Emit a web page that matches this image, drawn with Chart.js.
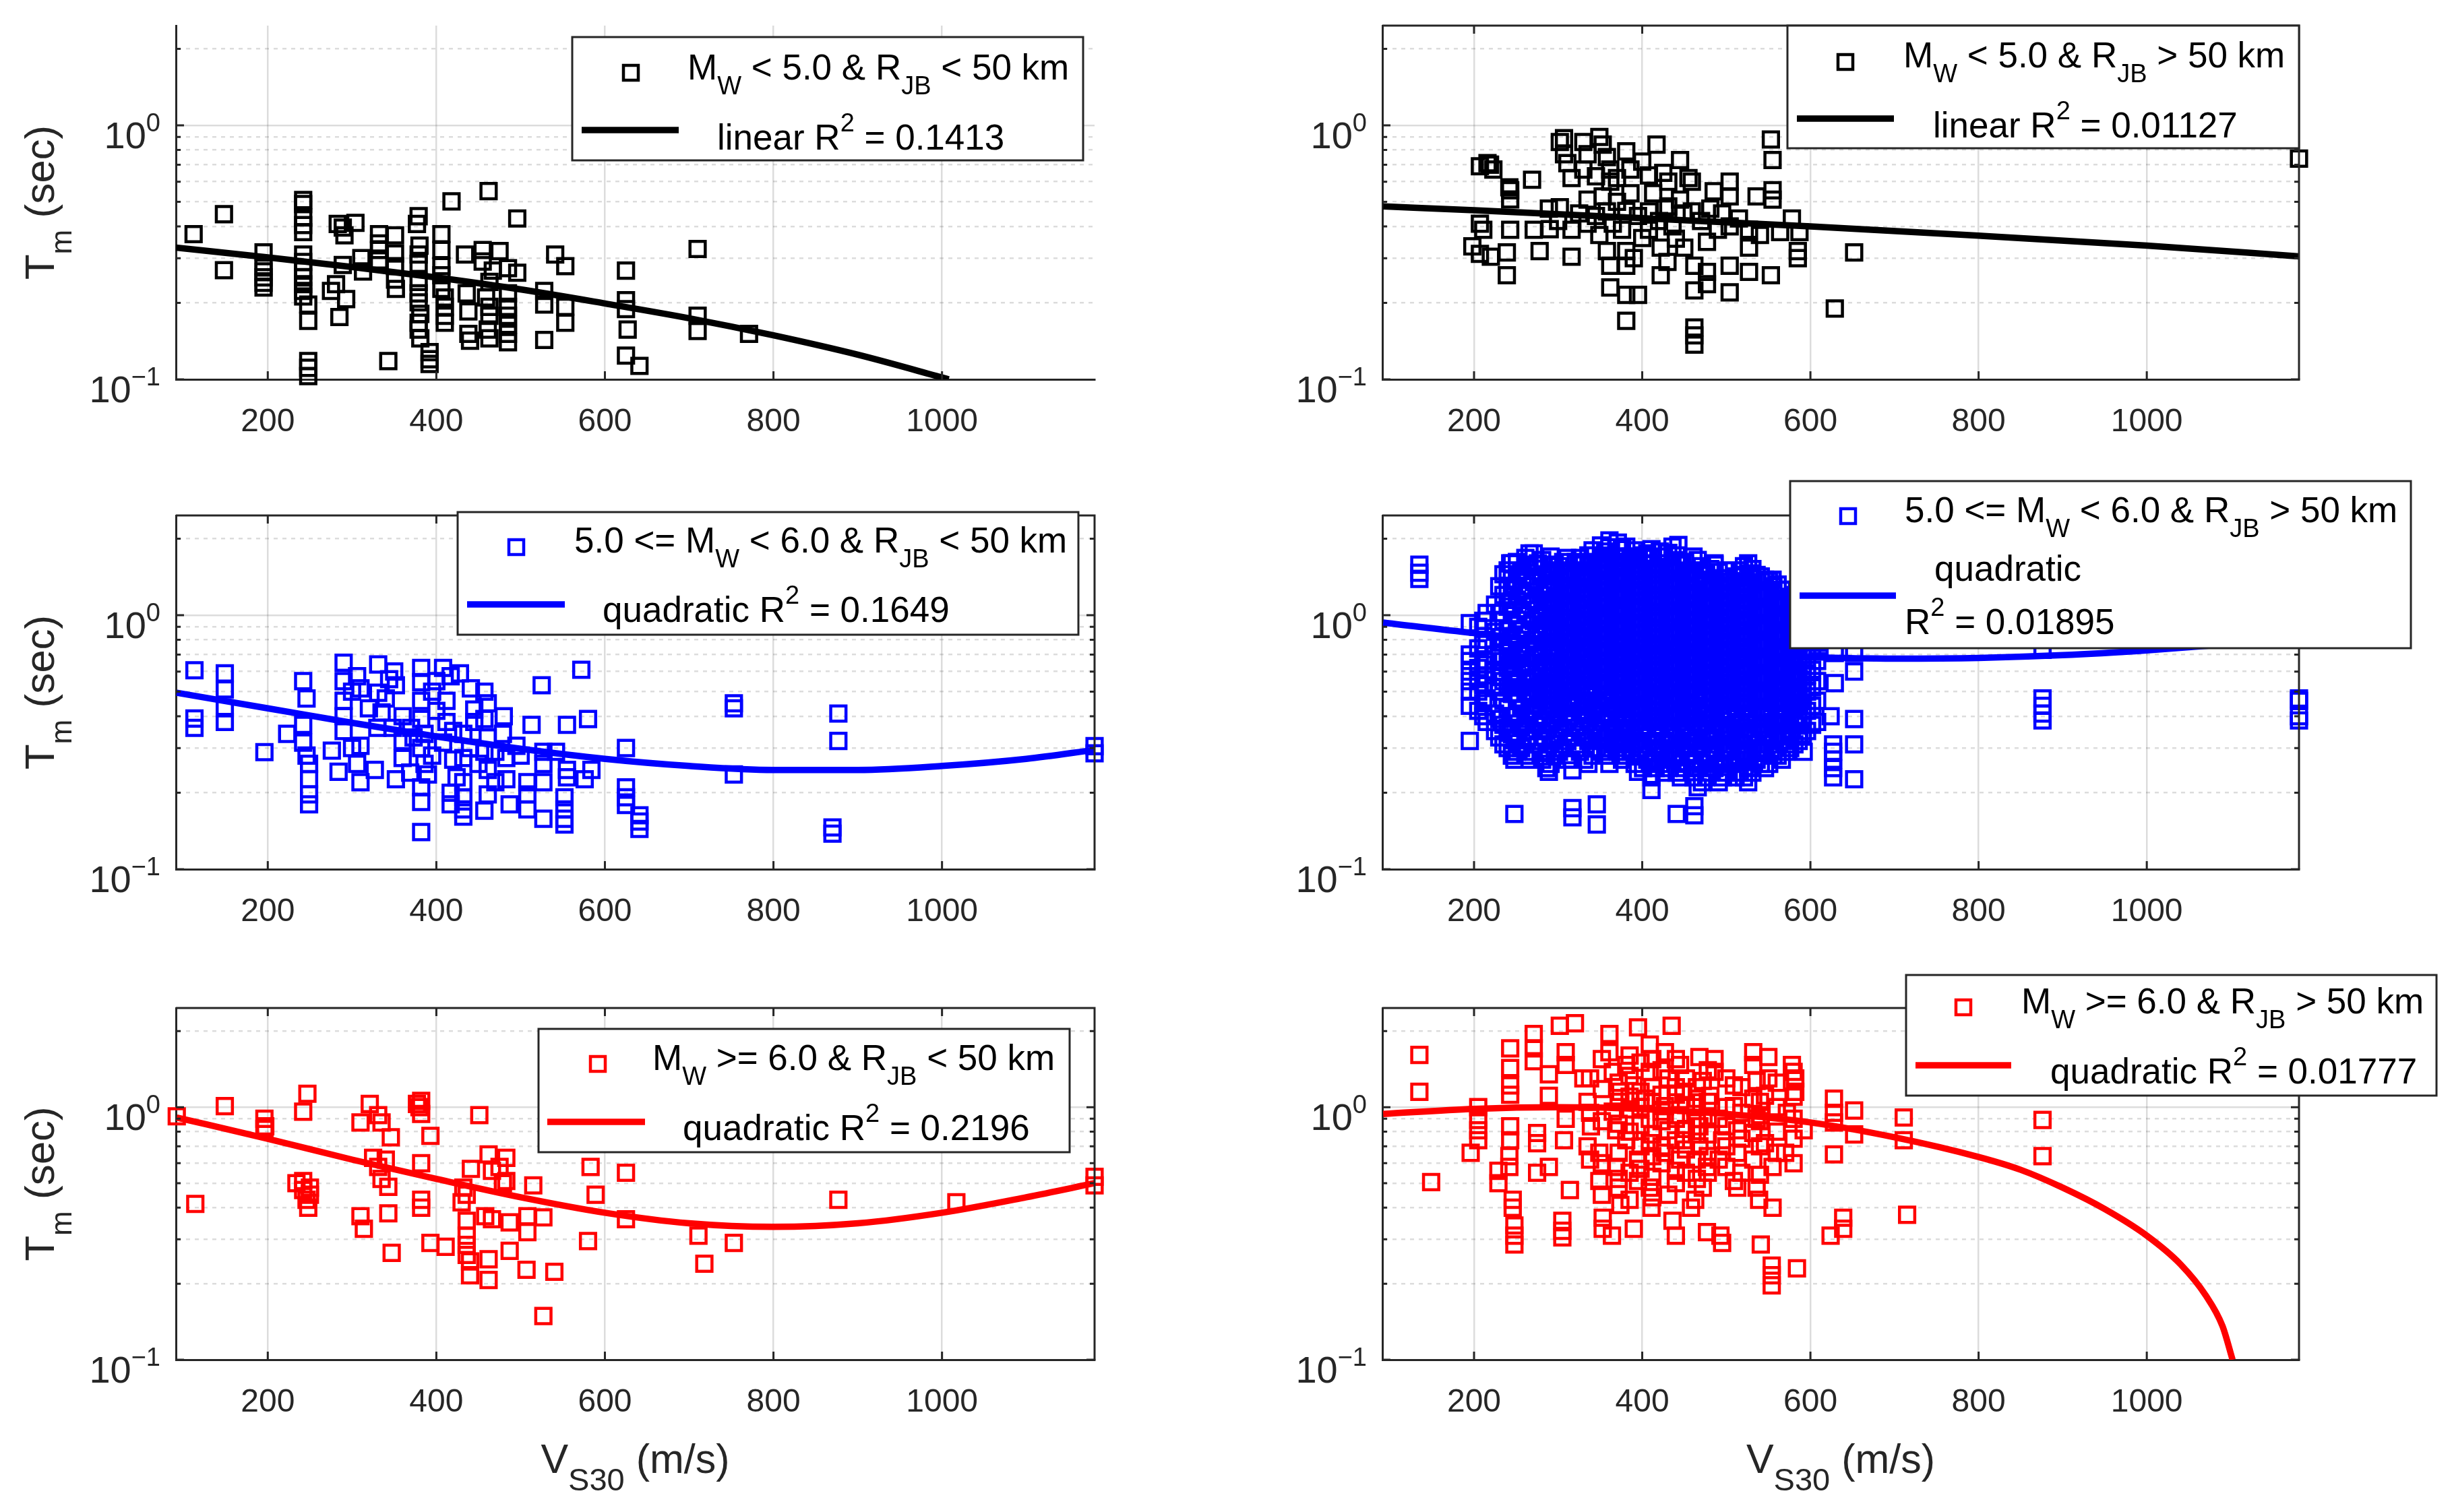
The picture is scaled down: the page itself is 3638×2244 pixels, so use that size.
<!DOCTYPE html>
<html><head><meta charset="utf-8">
<script src="https://cdn.jsdelivr.net/npm/chart.js@4.4.1/dist/chart.umd.min.js"></script>
<style>html,body{margin:0;padding:0;background:#fff;}#wrap{position:relative;width:3638px;height:2244px;background:#fff;}canvas{position:absolute;}</style>
</head><body><div id="wrap"></div>
<script>
// ---------------- DATA (Vs30 [m/s], Tm [s]) ----------------
const X_TICKS = [200, 400, 600, 800, 1000];
const Y_GRID = [0.1, 0.2, 0.3, 0.4, 0.5, 0.6, 0.7, 0.8, 0.9, 1, 2];
const Y_LABELS = [[1, '0'], [0.1, '\u22121']];

// Panel 1: Mw < 5.0 & Rjb < 50 km
const P1_POINTS = [[112,0.373],[148,0.447],[148,0.269],[195,0.316],[195,0.279],[195,0.266],[195,0.252],[195,0.240],[195,0.230],
[242,0.508],[242,0.49],[242,0.434],[242,0.405],[242,0.38],[242,0.31],[242,0.29],[242,0.268],[242,0.252],[242,0.237],[242,0.223],[242,0.212],
[248,0.197],[248,0.170],[248,0.118],[248,0.111],[248,0.103],[283,0.409],[289,0.396],[291,0.369],[304,0.413],
[289,0.282],[281,0.237],[275,0.223],[293,0.207],[285,0.176],[311,0.300],[313,0.266],[332,0.373],[332,0.343],[332,0.323],[332,0.294],[343,0.118],
[351,0.369],[351,0.313],[351,0.279],[351,0.247],[352,0.227],[379,0.439],[377,0.409],[380,0.336],[379,0.310],[379,0.285],[379,0.242],[379,0.218],
[379,0.201],[381,0.181],[379,0.167],[379,0.157],[381,0.145],[392,0.128],[392,0.120],[392,0.115],[406,0.373],[406,0.323],[406,0.279],[406,0.257],
[406,0.227],[410,0.210],[410,0.193],[410,0.178],[410,0.167],[418,0.502],[462,0.551],[496,0.430],[434,0.310],[436,0.218],[438,0.185],[438,0.151],
[440,0.142],[455,0.323],[455,0.291],[475,0.320],[467,0.268],[463,0.242],[459,0.210],[463,0.193],[463,0.178],[461,0.157],[463,0.145],
[485,0.274],[496,0.263],[485,0.218],[485,0.193],[485,0.178],[485,0.164],[485,0.151],[485,0.140],[528,0.223],[528,0.197],[528,0.143],
[541,0.310],[553,0.279],[553,0.193],[553,0.167],[625,0.268],[625,0.205],[625,0.189],[627,0.157],[625,0.124],[641,0.113],
[710,0.326],[710,0.178],[710,0.155],[771,0.151]];
const P1_FIT = [[91,0.330],[200,0.302],[300,0.277],[400,0.252],[500,0.226],[600,0.199],[700,0.174],[800,0.149],[900,0.125],[1008,0.100]];

// Panel 2: Mw < 5.0 & Rjb > 50 km
const P2_POINTS = [[207,0.69],[216,0.71],[223,0.67],[219,0.7],[243,0.555],[243,0.511],[242,0.57],[269,0.611],[207,0.41],[211,0.388],[198,0.334],
[207,0.312],[220,0.304],[239,0.316],[239,0.257],[243,0.388],[271,0.388],[278,0.32],[289,0.47],[302,0.476],[302,0.86],[307,0.77],[311,0.71],
[316,0.62],[316,0.388],[316,0.304],[330,0.86],[335,0.77],[330,0.67],[335,0.51],[335,0.41],[353,0.84],[358,0.75],[362,0.67],[362,0.60],
[353,0.525],[358,0.458],[349,0.37],[358,0.32],[362,0.28],[362,0.23],[381,0.79],[386,0.67],[386,0.54],[381,0.46],[376,0.388],[381,0.32],
[381,0.28],[381,0.215],[395,0.215],[381,0.170],[408,0.635],[413,0.54],[408,0.458],[408,0.388],[417,0.84],[422,0.33],[422,0.257],[431,0.6],
[431,0.48],[436,0.4],[445,0.73],[445,0.51],[440,0.358],[459,0.60],[459,0.458],[462,0.28],[462,0.224],[462,0.16],[462,0.149],[462,0.137],
[477,0.348],[477,0.265],[477,0.237],[481,0.47],[490,0.388],[504,0.60],[504,0.525],[504,0.40],[504,0.28],[504,0.22],[527,0.388],[527,0.33],
[527,0.265],[536,0.525],[555,0.555],[555,0.51],[553,0.88],[555,0.73],[553,0.257],[564,0.38],[578,0.43],[587,0.38],[585,0.32],[585,0.30],
[652,0.316],[629,0.19],[1181,0.74],[349,0.90],[307,0.89],[449,0.45],[427,0.47],[370,0.5],[395,0.44],[400,0.36],[420,0.42],[345,0.44],
[365,0.41],[390,0.30],[430,0.29],[450,0.33],[470,0.42],[495,0.45],[515,0.43],[540,0.37],[370,0.62],[400,0.72],[455,0.62],[485,0.55],
[425,0.65],[345,0.63],[300,0.42],[290,0.39],[325,0.45]];
const P2_FIT = [[92,0.480],[200,0.463],[400,0.431],[600,0.400],[800,0.368],[1000,0.336],[1181,0.305]];

// Panel 3: 5.0 <= Mw < 6.0 & Rjb < 50 km
const P3_POINTS = [[113,0.607],[113,0.392],[113,0.36],[149,0.59],[149,0.51],[149,0.43],[149,0.38],[196,0.289],[223,0.341],
[242,0.55],[246,0.47],[242,0.37],[242,0.315],[246,0.28],[249,0.26],[249,0.226],[249,0.197],[249,0.18],[276,0.293],[284,0.242],
[290,0.65],[290,0.55],[290,0.46],[290,0.40],[290,0.35],[306,0.575],[310,0.515],[310,0.306],[306,0.26],[310,0.22],[331,0.64],[331,0.495],
[335,0.414],[327,0.246],[344,0.56],[352,0.53],[348,0.36],[352,0.226],[360,0.274],[373,0.33],[369,0.24],[382,0.62],[382,0.545],[382,0.46],
[382,0.39],[386,0.341],[382,0.30],[386,0.26],[390,0.236],[382,0.21],[382,0.184],[382,0.14],[408,0.62],[412,0.46],[412,0.38],[408,0.315],
[417,0.575],[424,0.23],[417,0.2],[417,0.18],[428,0.59],[441,0.515],[445,0.425],[432,0.341],[432,0.274],[432,0.22],[432,0.192],[432,0.172],
[432,0.161],[457,0.50],[461,0.45],[457,0.39],[461,0.33],[457,0.29],[461,0.246],[461,0.197],[457,0.17],[479,0.341],[483,0.274],[483,0.226],
[487,0.18],[495,0.306],[508,0.22],[508,0.197],[508,0.172],[513,0.37],[525,0.53],[527,0.29],[527,0.26],[527,0.22],[527,0.158],[542,0.29],
[555,0.37],[555,0.246],[555,0.23],[552,0.192],[552,0.172],[552,0.158],[552,0.15],[572,0.61],[580,0.39],[584,0.246],[576,0.226],[625,0.30],
[625,0.21],[625,0.192],[625,0.179],[641,0.163],[641,0.154],[641,0.144],[753,0.45],[753,0.43],[753,0.236],[877,0.41],[877,0.32],[870,0.146],
[870,0.138],[1181,0.305],[1181,0.286],[300,0.5],[320,0.43],[340,0.47],[360,0.40],[370,0.36],[395,0.50],[400,0.42],[420,0.35],[440,0.30],
[450,0.26],[470,0.29],[480,0.40],[500,0.28],[360,0.32],[395,0.28],[330,0.36],[300,0.30],[470,0.22],[420,0.27],[445,0.38],[400,0.55],[350,0.60]];
const P3_FIT = [[92,0.495],[200,0.43],[300,0.377],[400,0.333],[500,0.298],[600,0.272],[700,0.255],[800,0.246],[900,0.246],[1000,0.255],[1100,0.272],[1181,0.295]];

// Panel 4: 5.0 <= Mw < 6.0 & Rjb > 50 km  (dense cloud, listed by Vs30 column)
const P4_COLUMNS = [
[205,[0.42,0.5,0.56,0.62,0.74,0.9]],
[215,[0.38,0.47,0.58,0.66,0.8,1.02]],
[225,[0.35,0.41,0.52,0.6,0.7,0.86,1.1]],
[235,[0.31,0.37,0.46,0.55,0.66,0.78,0.95,1.2,1.45]],
[245,[0.28,0.34,0.4,0.49,0.58,0.69,0.82,1.0,1.18,1.38,1.6]],
[256,[0.3,0.36,0.43,0.52,0.62,0.72,0.88,1.05,1.25,1.5]],
[266,[0.27,0.33,0.39,0.47,0.55,0.65,0.77,0.92,1.1,1.3,1.55,1.75]],
[276,[0.31,0.37,0.44,0.51,0.6,0.7,0.83,0.98,1.15,1.38,1.6]],
[286,[0.25,0.29,0.35,0.42,0.49,0.57,0.66,0.78,0.9,1.06,1.24,1.45]],
[296,[0.28,0.33,0.39,0.46,0.53,0.62,0.72,0.84,0.98,1.14,1.34,1.58]],
[306,[0.3,0.36,0.43,0.5,0.58,0.67,0.78,0.9,1.04,1.2,1.4,1.62]],
[316,[0.27,0.33,0.4,0.47,0.55,0.63,0.73,0.85,0.97,1.12,1.3,1.5]],
[326,[0.29,0.35,0.42,0.5,0.59,0.68,0.79,0.92,1.06,1.22,1.44,1.68]],
[336,[0.26,0.32,0.38,0.45,0.53,0.61,0.71,0.82,0.95,1.1,1.27,1.48,1.72]],
[346,[0.3,0.35,0.41,0.48,0.56,0.65,0.75,0.87,1.0,1.16,1.35,1.56]],
[356,[0.28,0.33,0.39,0.46,0.53,0.62,0.72,0.83,0.96,1.12,1.3,1.52,1.78]],
[366,[0.31,0.36,0.43,0.5,0.58,0.67,0.77,0.89,1.03,1.2,1.4,1.62]],
[376,[0.27,0.3,0.35,0.41,0.48,0.56,0.65,0.75,0.87,1.0,1.16,1.34,1.56,1.82]],
[386,[0.29,0.34,0.4,0.46,0.54,0.62,0.72,0.84,0.97,1.12,1.3,1.5,1.7]],
[396,[0.28,0.32,0.38,0.44,0.51,0.59,0.69,0.8,0.92,1.07,1.24,1.44,1.66]],
[406,[0.27,0.31,0.36,0.42,0.49,0.57,0.66,0.77,0.89,1.03,1.19,1.38,1.6,1.75]],
[416,[0.25,0.29,0.34,0.4,0.46,0.54,0.63,0.73,0.85,0.98,1.14,1.32,1.52]],
[426,[0.24,0.28,0.32,0.38,0.44,0.51,0.6,0.7,0.81,0.94,1.09,1.26,1.46,1.7]],
[436,[0.27,0.31,0.36,0.42,0.49,0.57,0.66,0.77,0.89,1.03,1.2,1.38,1.6,1.86]],
[446,[0.23,0.26,0.3,0.35,0.41,0.48,0.56,0.65,0.75,0.87,1.01,1.17,1.36,1.58]],
[456,[0.28,0.33,0.39,0.45,0.52,0.61,0.71,0.82,0.95,1.1,1.28,1.48]],
[466,[0.21,0.25,0.3,0.35,0.41,0.48,0.56,0.65,0.75,0.87,1.01,1.18,1.38,1.65]],
[476,[0.23,0.27,0.32,0.37,0.43,0.5,0.58,0.68,0.79,0.92,1.07,1.25,1.45]],
[486,[0.25,0.29,0.34,0.4,0.47,0.55,0.64,0.74,0.86,1.0,1.16,1.35,1.58]],
[496,[0.23,0.27,0.31,0.36,0.42,0.49,0.57,0.66,0.77,0.9,1.04,1.2,1.4]],
[506,[0.26,0.3,0.35,0.41,0.48,0.56,0.65,0.76,0.88,1.02,1.18,1.36]],
[516,[0.24,0.28,0.33,0.38,0.45,0.52,0.61,0.71,0.82,0.95,1.1,1.28,1.5]],
[526,[0.22,0.25,0.29,0.34,0.4,0.47,0.55,0.64,0.74,0.86,1.0,1.16,1.35,1.6]],
[536,[0.27,0.31,0.37,0.43,0.5,0.58,0.68,0.79,0.92,1.07,1.24,1.44]],
[546,[0.25,0.29,0.34,0.4,0.47,0.55,0.64,0.75,0.87,1.01,1.18,1.38]],
[556,[0.28,0.33,0.38,0.45,0.52,0.61,0.71,0.83,0.96,1.12,1.3]],
[566,[0.27,0.32,0.37,0.43,0.5,0.59,0.69,0.8,0.93,1.08,1.26]],
[576,[0.3,0.35,0.41,0.48,0.56,0.65,0.76,0.88,1.02,1.18]],
[586,[0.32,0.38,0.44,0.52,0.6,0.7,0.82,0.95,1.1]],
[596,[0.35,0.42,0.5,0.58,0.68,0.8,0.93]],
[608,[0.38,0.46,0.55,0.66,0.78]]];
const P4_COLUMNS_B = [
[211,[0.4,0.45,0.53,0.64,0.77,0.95]],
[230,[0.33,0.39,0.5,0.57,0.68,0.82,1.02,1.3]],
[240,[0.3,0.36,0.43,0.52,0.62,0.73,0.88,1.08,1.28,1.5]],
[251,[0.29,0.33,0.4,0.47,0.56,0.67,0.8,0.96,1.15,1.38,1.62]],
[261,[0.28,0.35,0.41,0.5,0.59,0.7,0.84,1.0,1.2,1.42,1.68]],
[271,[0.29,0.35,0.42,0.49,0.57,0.68,0.8,0.95,1.13,1.35,1.58]],
[281,[0.27,0.32,0.38,0.46,0.54,0.63,0.74,0.87,1.02,1.2,1.42,1.65]],
[291,[0.26,0.31,0.37,0.44,0.51,0.6,0.7,0.82,0.95,1.1,1.28,1.5,1.7]],
[301,[0.29,0.34,0.41,0.48,0.56,0.65,0.75,0.87,1.01,1.17,1.36,1.56]],
[311,[0.27,0.32,0.38,0.45,0.53,0.61,0.71,0.82,0.94,1.08,1.26,1.46,1.68]],
[321,[0.3,0.36,0.44,0.52,0.6,0.7,0.8,0.93,1.07,1.25,1.45,1.62]],
[331,[0.27,0.33,0.39,0.46,0.55,0.64,0.74,0.86,1.0,1.16,1.35,1.58]],
[341,[0.28,0.34,0.41,0.49,0.57,0.66,0.77,0.89,1.03,1.2,1.4,1.62,1.8]],
[351,[0.29,0.33,0.38,0.44,0.52,0.6,0.7,0.81,0.93,1.07,1.24,1.44,1.68,1.88]],
[361,[0.26,0.3,0.35,0.41,0.48,0.56,0.65,0.76,0.88,1.01,1.17,1.36,1.58,1.85]],
[371,[0.29,0.33,0.39,0.46,0.54,0.62,0.72,0.82,0.94,1.08,1.25,1.46,1.7,1.93]],
[381,[0.28,0.32,0.37,0.44,0.51,0.59,0.69,0.8,0.92,1.06,1.22,1.41,1.62,1.86]],
[391,[0.26,0.31,0.36,0.43,0.5,0.58,0.67,0.78,0.9,1.04,1.2,1.38,1.58,1.8]],
[401,[0.25,0.3,0.35,0.41,0.48,0.55,0.64,0.74,0.85,0.98,1.13,1.31,1.52,1.72]],
[411,[0.23,0.27,0.32,0.38,0.45,0.52,0.6,0.7,0.81,0.94,1.09,1.26,1.46,1.68,1.82]],
[421,[0.26,0.3,0.36,0.42,0.48,0.56,0.66,0.76,0.88,1.02,1.18,1.37,1.6,1.78]],
[431,[0.25,0.29,0.34,0.4,0.46,0.54,0.63,0.73,0.84,0.98,1.14,1.32,1.53,1.76]],
[441,[0.24,0.28,0.33,0.39,0.45,0.52,0.61,0.71,0.82,0.95,1.1,1.28,1.48,1.72]],
[451,[0.25,0.3,0.36,0.42,0.49,0.57,0.66,0.77,0.89,1.03,1.2,1.4,1.62]],
[461,[0.23,0.27,0.32,0.38,0.44,0.52,0.6,0.7,0.81,0.94,1.09,1.27,1.5,1.7]],
[471,[0.22,0.26,0.3,0.35,0.41,0.47,0.55,0.64,0.74,0.86,1.0,1.16,1.36,1.56]],
[481,[0.24,0.28,0.33,0.39,0.46,0.53,0.62,0.72,0.83,0.96,1.12,1.3,1.52]],
[491,[0.22,0.26,0.31,0.37,0.44,0.51,0.6,0.7,0.81,0.94,1.09,1.27,1.48]],
[501,[0.24,0.29,0.34,0.4,0.46,0.54,0.62,0.72,0.84,0.97,1.12,1.3,1.5]],
[511,[0.23,0.27,0.32,0.37,0.43,0.5,0.58,0.68,0.79,0.91,1.05,1.22,1.42]],
[521,[0.23,0.27,0.31,0.36,0.43,0.5,0.59,0.68,0.79,0.92,1.06,1.23,1.44,1.56]],
[531,[0.24,0.29,0.34,0.4,0.47,0.54,0.63,0.73,0.85,0.99,1.15,1.34,1.52]],
[541,[0.26,0.3,0.36,0.42,0.49,0.57,0.67,0.78,0.9,1.04,1.22,1.42]],
[551,[0.26,0.31,0.36,0.42,0.49,0.57,0.66,0.77,0.89,1.04,1.2,1.36]],
[561,[0.28,0.34,0.4,0.47,0.55,0.64,0.74,0.86,1.0,1.16,1.32]],
[571,[0.29,0.34,0.4,0.46,0.53,0.62,0.72,0.84,0.97,1.12,1.26]],
[581,[0.31,0.37,0.43,0.5,0.58,0.68,0.79,0.92,1.06,1.2]],
[591,[0.34,0.4,0.47,0.55,0.64,0.74,0.86,1.0]],
[602,[0.37,0.44,0.52,0.61,0.72,0.85]]];
const P4_EXTRA = [[135,1.58],[135,1.47],[135,1.39],[195,0.93],[195,0.70],[195,0.66],[195,0.60],[195,0.55],[195,0.50],[195,0.44],[195,0.32],
[248,0.165],[317,0.174],[317,0.16],[346,0.18],[346,0.15],[441,0.165],[462,0.177],[462,0.163],[248,0.27],[289,0.242],[317,0.245],[395,0.242],
[411,0.205],[361,1.97],[443,1.89],[271,1.75],[243,1.6],[381,1.7],[404,1.7],[486,1.6],[528,1.46],[555,1.38],[629,0.54],[624,0.40],[652,0.39],
[652,0.31],[652,0.226],[627,0.31],[627,0.29],[627,0.27],[627,0.25],[627,0.23],[652,0.6],[652,0.71],[629,0.71],[587,0.45],[587,0.34],[592,0.29],
[876,0.47],[876,0.44],[876,0.41],[876,0.385],[876,0.73],[1181,0.46],[1181,0.385],[1181,0.47],[1181,0.40]];
const P4_FIT = [[92,0.935],[200,0.85],[300,0.79],[400,0.742],[500,0.707],[600,0.684],[700,0.675],[800,0.679],[900,0.696],[1000,0.727],[1100,0.77],[1181,0.815]];

// Panel 5: Mw >= 6.0 & Rjb < 50 km
const P5_POINTS = [[92,0.92],[114,0.414],[149,1.01],[196,0.90],[197,0.84],[196,0.82],[242,0.96],[247,1.13],[234,0.50],[242,0.51],[242,0.47],
[246,0.43],[248,0.40],[250,0.48],[250,0.45],[310,0.87],[321,1.03],[331,0.93],[335,0.87],[346,0.76],[310,0.37],[314,0.33],[325,0.63],[331,0.58],
[340,0.62],[335,0.52],[343,0.484],[343,0.38],[347,0.265],[377,1.03],[382,1.06],[382,0.94],[380,1.0],[382,0.60],[382,0.43],[382,0.40],[393,0.77],
[393,0.29],[411,0.28],[451,0.93],[432,0.48],[436,0.45],[430,0.42],[441,0.57],[436,0.355],[436,0.31],[436,0.285],[436,0.26],[440,0.245],[440,0.216],
[462,0.65],[466,0.56],[475,0.58],[483,0.63],[483,0.51],[479,0.50],[458,0.37],[466,0.36],[487,0.35],[487,0.27],[462,0.25],[462,0.207],
[508,0.37],[508,0.32],[507,0.227],[515,0.49],[527,0.366],[527,0.149],[540,0.223],[583,0.58],[589,0.45],[580,0.295],[625,0.55],[625,0.36],
[711,0.31],[718,0.24],[753,0.29],[877,0.43],[1017,0.42],[1181,0.53],[1181,0.49]];
const P5_FIT = [[92,0.91],[200,0.75],[300,0.62],[400,0.52],[500,0.44],[600,0.382],[700,0.347],[800,0.336],[900,0.347],[1000,0.382],[1100,0.44],[1181,0.50]];

// Panel 6: Mw >= 6.0 & Rjb > 50 km
const P6_POINTS = [[135,1.61],[135,1.15],[149,0.505],[196,0.66],[205,0.74],[205,0.81],[205,0.89],[205,1.0],[229,0.56],[229,0.50],
[243,1.71],[243,1.43],[243,1.22],[243,1.12],[243,0.84],[243,0.74],[242,0.64],[242,0.58],[246,0.43],[246,0.40],[248,0.34],[248,0.31],[248,0.286],
[271,1.95],[271,1.71],[271,1.52],[275,0.79],[275,0.72],[275,0.55],[289,1.35],[289,1.11],[289,0.58],[302,2.1],[320,2.15],[305,0.355],[305,0.324],
[305,0.305],[309,1.65],[309,1.47],[309,0.9],[307,0.74],[314,0.47],[330,1.30],[335,1.05],[339,0.84],[335,0.70],[349,0.66],[349,0.51],[353,0.365],
[353,0.33],[361,1.95],[361,1.65],[365,1.38],[374,1.15],[365,0.96],[369,0.81],[369,0.58],[372,0.48],[374,0.41],[364,0.31],[381,1.47],[390,1.22],
[386,0.98],[381,0.74],[395,2.07],[395,0.62],[395,0.51],[390,0.33],[409,1.77],[409,1.38],[404,1.08],[409,0.9],[409,0.72],[409,0.48],[411,0.40],
[427,1.65],[431,1.30],[427,1.01],[431,0.81],[427,0.66],[435,2.1],[431,0.45],[436,0.355],[440,0.31],[445,1.47],[449,1.15],[445,0.93],[449,0.74],
[445,0.62],[458,0.40],[463,0.43],[468,1.58],[472,1.27],[463,1.0],[468,0.84],[468,0.70],[477,0.58],[472,0.48],[477,0.32],[493,0.31],[495,0.29],
[486,1.55],[486,1.38],[481,1.11],[491,0.9],[495,0.74],[491,0.62],[509,1.22],[509,1.01],[513,0.81],[513,0.66],[509,0.51],[513,0.48],
[532,1.65],[532,1.47],[536,1.27],[532,1.08],[536,0.9],[532,0.79],[532,0.62],[536,0.48],[539,0.43],[541,0.286],[550,1.58],[550,1.30],[546,1.11],
[541,0.93],[546,0.72],[555,0.58],[555,0.40],[554,0.236],[554,0.216],[554,0.197],[572,0.95],[570,0.66],[578,1.47],[582,1.30],[582,1.15],
[580,1.38],[584,0.23],[592,0.81],[628,1.08],[628,0.95],[628,0.87],[628,0.65],[624,0.31],[639,0.365],[639,0.33],[652,0.97],[652,0.78],
[711,0.91],[711,0.74],[715,0.375],[876,0.89],[876,0.64]];
const P6_CORE = [[338,[0.95,1.3,0.62]],[352,[0.88,1.18,1.55,0.6,0.45]],[372,[0.86,1.05,1.25,0.66,0.52]],[385,[0.8,1.1,1.33,1.6,0.55,0.43]],
[398,[0.85,1.0,1.15,1.5,0.7,0.57]],[412,[0.78,1.05,1.2,1.55,0.64,0.53,0.44]],[423,[0.88,0.96,1.12,1.4,0.7,0.6]],[440,[0.9,1.12,1.2,1.55,0.74,0.56,0.5]],
[452,[0.82,1.02,1.3,0.68,0.55]],[465,[0.9,1.08,1.2,0.78,0.62,0.52]],[478,[0.78,0.92,1.05,1.4,0.64,0.55]],[500,[0.84,1.0,1.3,0.7,0.58]],
[518,[0.75,0.95,1.2,0.55]],[540,[0.88,1.05,0.7,0.54]],[560,[0.8,1.0,1.25,0.66]],[580,[0.9,1.1,0.75,0.6]]];
const P6_FIT = [[92,0.94],[200,0.985],[300,1.0],[400,0.985],[500,0.94],[600,0.87],[700,0.76],[800,0.635],[850,0.565],[900,0.48],[950,0.395],[1000,0.31],[1040,0.239],[1070,0.18],[1090,0.136],[1102,0.1]];

// ---------------- STYLE / LAYOUT ----------------
const FONT = '"Liberation Sans", Arial, Helvetica, sans-serif';
const AXIS_COLOR = '#262626';
const GRID_COLOR = 'rgba(38,38,38,0.16)';
const X_RANGE = [91, 1181], Y_RANGE = [0.1, 2.47];
const LEG = {main: 53, sub: 38, sup: 38, subDy: 22, supDy: -27};
const MARK_R = 16, MARK_W = 4.5, FIT_W = 9.5;

const flattenCols = cols => cols.flatMap(([x, ys]) => ys.map(y => [x, y]));

const PANELS = [
 {points: P1_POINTS, fit: P1_FIT, color: '#000000', region: [0, 0, 1819, 700], box: [261, 38, 1624, 563], frame: false, yTitle: true, xTitle: false,
  legend: {box: [849, 55, 1607, 238], marker: [936, 108], line: [863, 1007, 193],
   texts: [[1020, 118, [['M'], ['W', 'sub'], [' < 5.0 & R'], ['JB', 'sub'], [' < 50 km']]], [1064, 222, [['linear R'], ['2', 'sup'], [' = 0.1413']]]]}},
 {points: P2_POINTS, fit: P2_FIT, color: '#000000', region: [1819, 0, 1819, 700], box: [2051, 38, 3411, 563], frame: true, yTitle: false, xTitle: false,
  legend: {box: [2652, 38, 3411, 220], marker: [2738, 92], line: [2666, 2810, 176],
   texts: [[2824, 100, [['M'], ['W', 'sub'], [' < 5.0 & R'], ['JB', 'sub'], [' > 50 km']]], [2868, 204, [['linear R'], ['2', 'sup'], [' = 0.01127']]]]}},
 {points: P3_POINTS, fit: P3_FIT, color: '#0000ff', region: [0, 700, 1819, 740], box: [261, 765, 1624, 1290], frame: true, yTitle: true, xTitle: false,
  legend: {box: [679, 760, 1600, 942], marker: [766, 812], line: [693, 838, 897],
   texts: [[852, 820, [['5.0 <= M'], ['W', 'sub'], [' < 6.0 & R'], ['JB', 'sub'], [' < 50 km']]], [894, 923, [['quadratic R'], ['2', 'sup'], [' = 0.1649']]]]}},
 {points: flattenCols(P4_COLUMNS).concat(flattenCols(P4_COLUMNS_B), P4_EXTRA), fit: P4_FIT, color: '#0000ff', region: [1819, 700, 1819, 740], box: [2051, 765, 3411, 1290], frame: true, yTitle: false, xTitle: false,
  legend: {box: [2656, 714, 3577, 962], marker: [2742, 766], line: [2670, 2813, 884],
   texts: [[2826, 775, [['5.0 <= M'], ['W', 'sub'], [' < 6.0 & R'], ['JB', 'sub'], [' > 50 km']]], [2870, 862, [['quadratic']]], [2826, 941, [['R'], ['2', 'sup'], [' = 0.01895']]]]}},
 {points: P5_POINTS, fit: P5_FIT, color: '#ff0000', region: [0, 1440, 1819, 804], box: [261, 1496, 1624, 2018], frame: true, yTitle: true, xTitle: true,
  legend: {box: [799, 1527, 1587, 1710], marker: [887, 1579], line: [812, 957, 1665],
   texts: [[968, 1588, [['M'], ['W', 'sub'], [' >= 6.0 & R'], ['JB', 'sub'], [' < 50 km']]], [1013, 1692, [['quadratic R'], ['2', 'sup'], [' = 0.2196']]]]}},
 {points: P6_POINTS.concat(flattenCols(P6_CORE)), fit: P6_FIT, color: '#ff0000', region: [1819, 1440, 1819, 804], box: [2051, 1496, 3411, 2018], frame: true, yTitle: false, xTitle: true,
  legend: {box: [2828, 1447, 3615, 1626], marker: [2913, 1495], line: [2842, 2984, 1581],
   texts: [[2999, 1504, [['M'], ['W', 'sub'], [' >= 6.0 & R'], ['JB', 'sub'], [' > 50 km']]], [3042, 1608, [['quadratic R'], ['2', 'sup'], [' = 0.01777']]]]}}
];

// ---------------- DRAWING HELPERS ----------------
function drawRich(ctx, x, y, segs, S, align, color) {
  let total = 0;
  const parts = segs.map(([t, m]) => {
    const size = m === 'sub' ? S.sub : m === 'sup' ? S.sup : S.main;
    ctx.font = size + 'px ' + FONT;
    const w = ctx.measureText(t).width; total += w;
    return {t, m, size, w};
  });
  let cx = align === 'center' ? x - total / 2 : align === 'right' ? x - total : x;
  ctx.textAlign = 'left'; ctx.textBaseline = 'alphabetic'; ctx.fillStyle = color;
  for (const p of parts) {
    ctx.font = p.size + 'px ' + FONT;
    const dy = p.m === 'sub' ? S.subDy : p.m === 'sup' ? S.supDy : 0;
    ctx.fillText(p.t, cx, y + dy);
    cx += p.w;
  }
}
const isDecade = v => Math.abs(Math.log10(v) - Math.round(Math.log10(v))) < 1e-6;

const decoPlugin = {
  id: 'deco',
  afterDraw(chart) {
    const P = chart.options.plugins.deco.panel;
    const ctx = chart.ctx, ca = chart.chartArea;
    const [x0, y0] = P.region;
    const xs = chart.scales.x, ys = chart.scales.y;
    ctx.save();
    ctx.strokeStyle = AXIS_COLOR;
    // box frame (top/right)
    if (P.frame) {
      ctx.lineWidth = 3;
      ctx.beginPath(); ctx.moveTo(ca.left, ca.top); ctx.lineTo(ca.right, ca.top); ctx.lineTo(ca.right, ca.bottom); ctx.stroke();
    }
    // inward tick marks
    ctx.lineWidth = 3;
    ctx.beginPath();
    for (const v of X_TICKS) {
      const px = xs.getPixelForValue(v);
      ctx.moveTo(px, ca.bottom); ctx.lineTo(px, ca.bottom - 12);
      if (P.frame) { ctx.moveTo(px, ca.top); ctx.lineTo(px, ca.top + 12); }
    }
    for (const v of Y_GRID) {
      const py = ys.getPixelForValue(v);
      const len = isDecade(v) ? 12 : 7;
      ctx.moveTo(ca.left, py); ctx.lineTo(ca.left + len, py);
      if (P.frame) { ctx.moveTo(ca.right, py); ctx.lineTo(ca.right - len, py); }
    }
    ctx.stroke();
    // y tick labels 10^0 and 10^-1
    for (const [v, sup] of Y_LABELS) {
      const py = ys.getPixelForValue(v);
      const right = ca.left - 23;
      ctx.font = '38px ' + FONT; const ws = ctx.measureText(sup).width;
      ctx.fillStyle = AXIS_COLOR; ctx.textAlign = 'left'; ctx.textBaseline = 'alphabetic';
      ctx.fillText(sup, right - ws, py + 9);
      ctx.font = '56px ' + FONT; const wm = ctx.measureText('10').width;
      ctx.fillText('10', right - ws - wm, py + 34);
    }
    ctx.translate(-x0, -y0);
    const cy = (P.box[1] + P.box[3]) / 2, cx = (P.box[0] + P.box[2]) / 2;
    if (P.yTitle) {
      ctx.save(); ctx.translate(80, cy); ctx.rotate(-Math.PI / 2);
      drawRich(ctx, 0, 0, [['T'], ['m', 'sub'], [' (sec)']], {main: 62, sub: 44, sup: 44, subDy: 26, supDy: -26}, 'center', AXIS_COLOR);
      ctx.restore();
    }
    if (P.xTitle) {
      drawRich(ctx, cx, 2186, [['V'], ['S30', 'sub'], [' (m/s)']], {main: 61, sub: 47, sup: 47, subDy: 26, supDy: -26}, 'center', AXIS_COLOR);
    }
    // legend
    const L = P.legend, b = L.box;
    ctx.fillStyle = '#ffffff'; ctx.fillRect(b[0], b[1], b[2] - b[0], b[3] - b[1]);
    ctx.strokeStyle = AXIS_COLOR; ctx.lineWidth = 3; ctx.strokeRect(b[0], b[1], b[2] - b[0], b[3] - b[1]);
    ctx.strokeStyle = P.color; ctx.lineWidth = MARK_W; ctx.strokeRect(L.marker[0] - 11, L.marker[1] - 11, 22, 22);
    ctx.lineWidth = FIT_W; ctx.lineCap = 'butt';
    ctx.beginPath(); ctx.moveTo(L.line[0], L.line[2]); ctx.lineTo(L.line[1], L.line[2]); ctx.stroke();
    for (const [tx, ty, segs] of L.texts) drawRich(ctx, tx, ty, segs, LEG, 'left', '#000000');
    ctx.restore();
  }
};

// ---------------- BUILD CHARTS ----------------
const wrap = document.getElementById('wrap');
PANELS.forEach((P) => {
  const [x0, y0, w, h] = P.region;
  const cv = document.createElement('canvas');
  cv.width = w; cv.height = h;
  cv.style.left = x0 + 'px'; cv.style.top = y0 + 'px'; cv.style.width = w + 'px'; cv.style.height = h + 'px';
  wrap.appendChild(cv);
  const [l, t, r, bt] = P.box;
  const YW = 100, XH = 100;
  new Chart(cv.getContext('2d'), {
    type: 'scatter',
    data: {
      datasets: [
        {type: 'line', data: P.fit.map(([x, y]) => ({x, y})), borderColor: P.color, borderWidth: FIT_W, pointRadius: 0,
         fill: false, showLine: true, cubicInterpolationMode: 'monotone', order: 1},
        {type: 'scatter', data: P.points.map(([x, y]) => ({x, y})), pointStyle: 'rect', pointRadius: MARK_R, pointBorderWidth: MARK_W,
         pointBorderColor: P.color, pointBackgroundColor: 'rgba(0,0,0,0)', showLine: false, clip: false, order: 2}
      ]
    },
    options: {
      responsive: false, animation: false, devicePixelRatio: 1, events: [],
      layout: {padding: {left: l - x0 - YW, right: x0 + w - r, top: t - y0, bottom: y0 + h - bt - XH}},
      plugins: {legend: {display: false}, tooltip: {enabled: false}, title: {display: false}, deco: {panel: P}},
      scales: {
        x: {type: 'linear', min: X_RANGE[0], max: X_RANGE[1],
            afterBuildTicks: s => { s.ticks = X_TICKS.map(v => ({value: v})); },
            afterFit: s => { s.height = XH; },
            ticks: {autoSkip: false, maxRotation: 0, padding: 35, color: AXIS_COLOR, font: {family: FONT, size: 48}, callback: v => String(v)},
            grid: {color: GRID_COLOR, lineWidth: 2.5, drawTicks: false},
            border: {display: true, color: AXIS_COLOR, width: 3}},
        y: {type: 'logarithmic', min: Y_RANGE[0], max: Y_RANGE[1],
            afterBuildTicks: s => { s.ticks = Y_GRID.map(v => ({value: v})); },
            afterFit: s => { s.width = YW; },
            ticks: {display: false},
            grid: {color: GRID_COLOR, lineWidth: 2.5, drawTicks: false},
            border: {display: true, color: AXIS_COLOR, width: 3,
                     dash: c => (c.tick && !isDecade(c.tick.value)) ? [6, 7] : []}}
      }
    },
    plugins: [decoPlugin]
  });
});
</script></body></html>
